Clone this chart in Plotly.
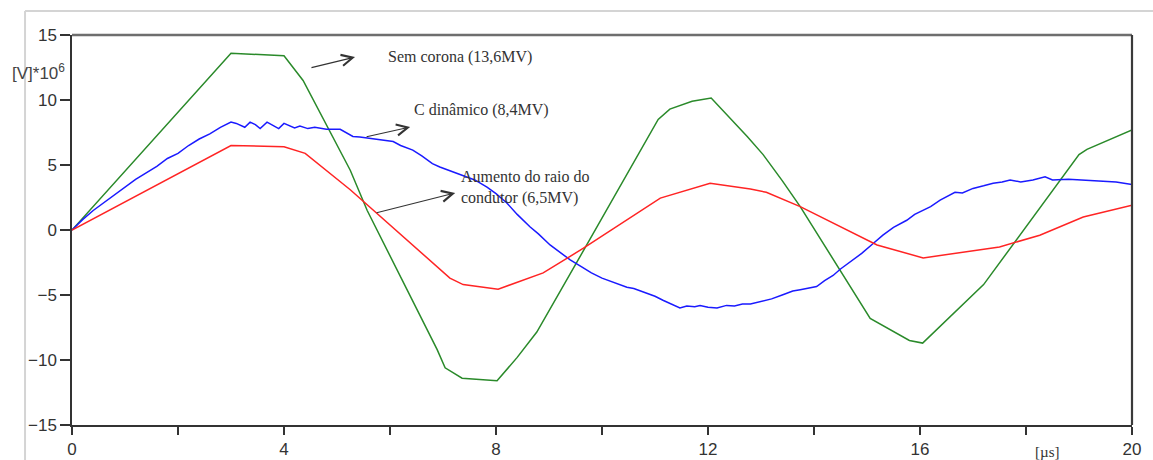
import plotly.graph_objects as go

# Time axis in microseconds, voltages in MV ([V]*10^6)
t_sem = [0.0, 3.0, 4.0, 4.36, 5.25, 5.57, 6.89, 7.04, 7.36, 8.02, 8.4, 8.77, 9.55,
         10.72, 11.06, 11.28, 11.7, 12.06, 12.74, 13.04, 13.4, 13.74, 15.06, 15.8,
         16.05, 17.2, 19.0, 19.15, 20.0]
v_sem = [0.0, 13.6, 13.4, 11.5, 4.6, 1.5, -9.2, -10.6, -11.4, -11.6, -9.8, -7.85, -2.3,
         6.15, 8.5, 9.3, 9.9, 10.15, 7.2, 5.8, 3.8, 1.8, -6.8, -8.5,
         -8.7, -4.2, 5.8, 6.2, 7.7]

t_cdin = [0.0, 0.2, 0.4, 0.6, 0.8, 1.0, 1.2, 1.4, 1.6, 1.8, 2.0, 2.2, 2.4, 2.6, 2.8,
          3.0, 3.1, 3.26, 3.36, 3.46, 3.55, 3.68, 3.8, 3.9, 4.0, 4.1, 4.2, 4.3, 4.45,
          4.58, 4.8, 5.06, 5.2, 5.3, 5.43, 5.6, 5.8, 6.06, 6.2, 6.43, 6.6, 6.8, 6.94,
          7.1, 7.3, 7.45, 7.6, 7.83, 8.0, 8.2, 8.4, 8.64, 8.8, 9.02, 9.2, 9.4, 9.64,
          9.8, 10.0, 10.2, 10.47, 10.6, 10.77, 11.0, 11.15, 11.3, 11.47, 11.6, 11.75,
          11.85, 12.0, 12.17, 12.35, 12.5, 12.65, 12.8, 13.0, 13.2, 13.4, 13.6, 13.74,
          13.9, 14.05, 14.2, 14.36, 14.5, 14.68, 14.9, 15.1, 15.3, 15.5, 15.75, 15.9,
          16.06, 16.2, 16.38, 16.55, 16.66, 16.8, 17.0, 17.2, 17.38, 17.55, 17.7, 17.9,
          18.13, 18.36, 18.5, 18.8, 19.08, 19.4, 19.7, 20.0]
v_cdin = [0.0, 0.8, 1.5, 2.1, 2.7, 3.3, 3.9, 4.4, 4.9, 5.5, 5.9, 6.5, 7.0, 7.4, 7.9,
          8.3, 8.2, 7.9, 8.3, 8.1, 7.8, 8.3, 8.0, 7.8, 8.2, 8.0, 7.85, 8.0, 7.8,
          7.9, 7.75, 7.75, 7.4, 7.2, 7.15, 7.05, 6.95, 6.8, 6.5, 6.15, 5.7, 5.1, 4.85,
          4.6, 4.3, 4.1, 3.85, 3.3, 2.8, 2.1, 1.2, 0.25, -0.3, -1.15, -1.7, -2.3, -2.9,
          -3.3, -3.7, -4.0, -4.4, -4.5, -4.75, -5.1, -5.4, -5.7, -6.0, -5.85, -5.9,
          -5.8, -5.95, -6.0, -5.8, -5.85, -5.7, -5.7, -5.5, -5.3, -5.0, -4.7, -4.6,
          -4.5, -4.35, -3.9, -3.5, -3.0, -2.45, -1.8, -1.1, -0.4, 0.2, 0.75, 1.2,
          1.5, 1.8, 2.3, 2.7, 2.9, 2.85, 3.2, 3.4, 3.6, 3.7, 3.85, 3.7,
          3.85, 4.1, 3.85, 3.9, 3.85, 3.8, 3.7, 3.5]

t_raio = [0.0, 3.0, 4.0, 4.4, 5.25, 7.13, 7.38, 8.04, 8.89, 9.65, 11.1, 12.04, 12.8,
          13.1, 13.74, 15.19, 16.06, 17.5, 18.26, 19.08, 20.0]
v_raio = [0.0, 6.5, 6.4, 5.9, 3.1, -3.7, -4.2, -4.55, -3.3, -1.4, 2.45, 3.6, 3.15,
          2.9, 1.8, -1.15, -2.15, -1.3, -0.4, 1.0, 1.9]

x_ticks = [0, 2, 4, 6, 8, 10, 12, 14, 16, 18, 20]
x_labels = ["0", "", "4", "", "8", "", "12", "", "16", "", "20"]
y_ticks = [-15, -10, -5, 0, 5, 10, 15]

# (label, x, y) for the text notes, and arrows (tail_x, tail_y, head_x, head_y)
notes = [
    ("Sem corona (13,6MV)", 5.92, 13.3),
    ("C dinâmico (8,4MV)", 6.42, 9.23),
    ("Aumento do raio do<br>condutor (6,5MV)", 7.3, 3.3),
]
arrows = [
    (4.49, 12.46, 5.34, 13.3),
    (5.53, 7.15, 6.38, 7.92),
    (5.72, 1.3, 7.23, 2.85),
]

fig = go.Figure()
fig.add_trace(go.Scatter(x=t_sem, y=v_sem, mode="lines",
                         line=dict(color="#2a8a2a", width=1.5), name="Sem corona"))
fig.add_trace(go.Scatter(x=t_cdin, y=v_cdin, mode="lines",
                         line=dict(color="#1a1aff", width=1.5), name="C dinâmico"))
fig.add_trace(go.Scatter(x=t_raio, y=v_raio, mode="lines",
                         line=dict(color="#ff2424", width=1.5), name="Aumento do raio"))

serif = "Liberation Serif, Times New Roman, serif"
sans = "Liberation Sans, Arial, sans-serif"

for text, x, y in notes:
    fig.add_annotation(x=x, y=y, xref="x", yref="y", text=text, showarrow=False,
                       xanchor="left", yanchor="middle", align="left",
                       font=dict(family=serif, size=16, color="#333333"))

for tx, ty, hx, hy in arrows:
    fig.add_annotation(x=hx, y=hy, ax=tx, ay=ty, xref="x", yref="y",
                       axref="x", ayref="y", text="", showarrow=True,
                       arrowhead=5, arrowsize=2.0, arrowwidth=1.1,
                       arrowcolor="#333333")

fig.add_annotation(x=-0.032, y=0.905, xref="paper", yref="paper",
                   text="[V]*10<sup>6</sup>", showarrow=False,
                   xanchor="center", yanchor="middle",
                   font=dict(family=sans, size=17, color="#444444"))
fig.add_annotation(x=0.92, y=-0.07, xref="paper", yref="paper",
                   text="[µs]", showarrow=False, xanchor="center", yanchor="middle",
                   font=dict(family=serif, size=15, color="#333333"))

# Plot frame: top and right borders, plus the faint outer frame
fig.add_shape(type="line", xref="paper", yref="paper", x0=0, x1=1, y0=1, y1=1,
              line=dict(color="#6e6e6e", width=2.5))
fig.add_shape(type="line", xref="paper", yref="paper", x0=1, x1=1, y0=0, y1=1,
              line=dict(color="#3a3a3a", width=2.2))
fig.add_shape(type="line", xref="paper", yref="paper", x0=-0.0443, x1=1.03,
              y0=1.0615, y1=1.0615, line=dict(color="#d4d4d4", width=2))
fig.add_shape(type="line", xref="paper", yref="paper", x0=-0.0443, x1=-0.0443,
              y0=-0.1, y1=1.0615, line=dict(color="#d4d4d4", width=2))

fig.update_layout(
    width=1153, height=460,
    margin=dict(l=72, r=21, t=35, b=35, autoexpand=False),
    plot_bgcolor="white", paper_bgcolor="white",
    showlegend=False,
    xaxis=dict(range=[0, 20], tickvals=x_ticks, ticktext=x_labels, automargin=False,
               showgrid=False, zeroline=False, showline=True, linecolor="#333333",
               linewidth=1.5, ticks="outside", ticklen=8, tickwidth=1.5,
               tickcolor="#333333",
               tickfont=dict(family=sans, size=17, color="#333333")),
    yaxis=dict(range=[-15, 15], tickvals=y_ticks, showgrid=False, zeroline=False,
               automargin=False,
               showline=True, linecolor="#333333", linewidth=1.5,
               ticks="outside", ticklen=10, tickwidth=1.5, tickcolor="#333333",
               tickfont=dict(family=sans, size=17, color="#333333")),
)

fig.write_html("out.html")
